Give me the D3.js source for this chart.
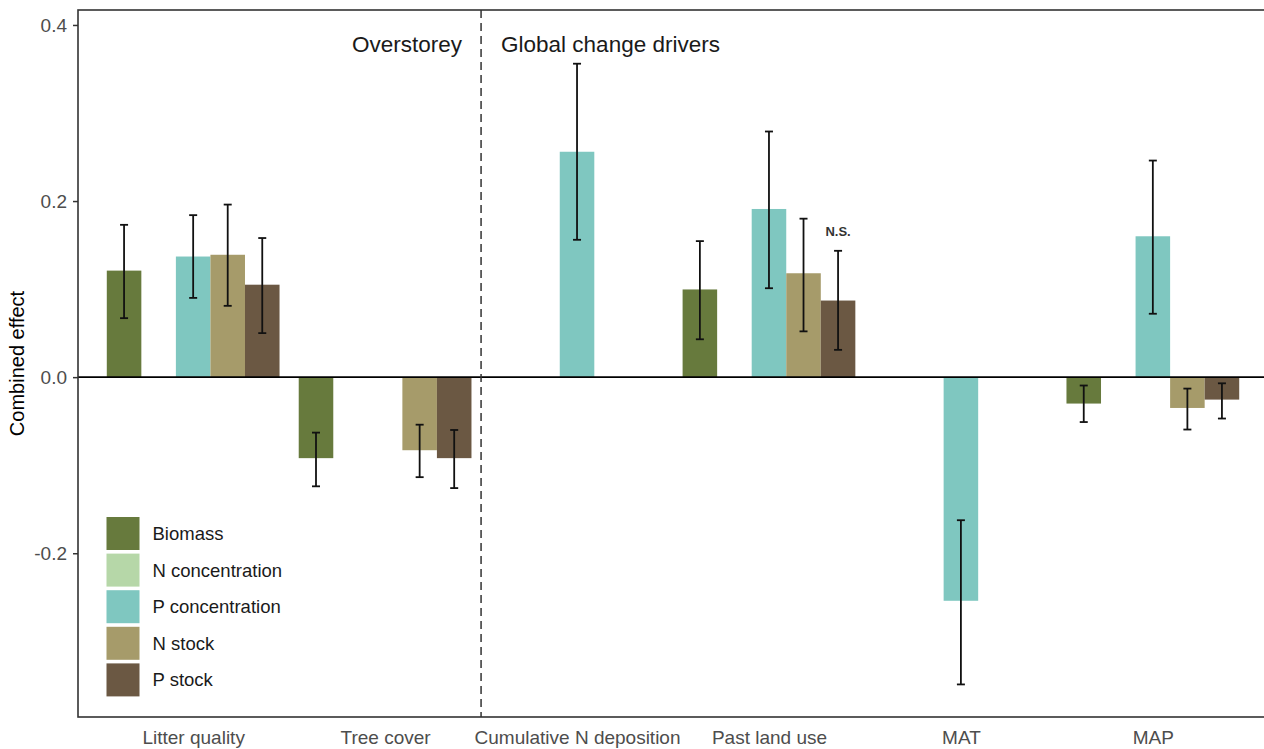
<!DOCTYPE html>
<html>
<head>
<meta charset="utf-8">
<script src="https://cdn.jsdelivr.net/npm/d3@7"></script>
<style>
  html, body { margin: 0; padding: 0; background: #fff; }
  svg { display: block; font-family: Arial, "Liberation Sans", sans-serif; }
</style>
</head>
<body>
<svg id="chart" width="1264" height="749"></svg>
<script>
// Predictor categories along the x axis
const categories = ["Litter quality", "Tree cover", "Cumulative N deposition", "Past land use", "MAT", "MAP"];

// Response variables (legend order)
const series = ["Biomass", "N concentration", "P concentration", "N stock", "P stock"];
const seriesColors = ["#677a3d", "#b6d7a8", "#7fc7c0", "#a69b6a", "#6b5843"];

// Combined effects per category (null = not estimated)
const biomass      = [0.121, -0.092, null, 0.0996, null, -0.030];
const biomassLow   = [0.067, -0.124, null, 0.043, null, -0.051];
const biomassHigh  = [0.173, -0.063, null, 0.1545, null, -0.0095];

const nConc        = [null, null, null, null, null, null];
const nConcLow     = [null, null, null, null, null, null];
const nConcHigh    = [null, null, null, null, null, null];

const pConc        = [0.137, null, 0.256, 0.191, -0.254, 0.160];
const pConcLow     = [0.090, null, 0.156, 0.101, -0.349, 0.072];
const pConcHigh    = [0.184, null, 0.356, 0.279, -0.1625, 0.246];

const nStock       = [0.139, -0.083, null, 0.118, null, -0.035];
const nStockLow    = [0.081, -0.1136, null, 0.052, null, -0.0595];
const nStockHigh   = [0.196, -0.054, null, 0.180, null, -0.013];

const pStock       = [0.105, -0.092, null, 0.087, null, -0.0255];
const pStockLow    = [0.050, -0.126, null, 0.031, null, -0.047];
const pStockHigh   = [0.158, -0.060, null, 0.1435, null, -0.007];

const yTicks = [-0.2, 0.0, 0.2, 0.4];
const yTickLabels = ["-0.2", "0.0", "0.2", "0.4"];

// Section headings either side of the divider
const leftHeading = "Overstorey";
const rightHeading = "Global change drivers";
const nsLabel = { category: "Past land use", series: "P stock", text: "N.S." };

const values = [biomass, nConc, pConc, nStock, pStock];
const lows   = [biomassLow, nConcLow, pConcLow, nStockLow, pStockLow];
const highs  = [biomassHigh, nConcHigh, pConcHigh, nStockHigh, pStockHigh];

// Long-format rows built from the arrays above
const rows = [];
series.forEach((s, si) => {
  categories.forEach((c, ci) => {
    if (values[si][ci] !== null) {
      rows.push({ series: s, category: c, value: values[si][ci], low: lows[si][ci], high: highs[si][ci], color: seriesColors[si] });
    }
  });
});

const svg = d3.select("#chart");
const panel = { left: 78, top: 10, right: 1268, bottom: 717 };

// Discrete x positions with 0.6-unit expansion on both sides
const xPos = d3.scaleLinear()
  .domain([0.4, categories.length + 0.6])
  .range([panel.left, panel.right]);
const catIndex = d3.scaleOrdinal().domain(categories).range(d3.range(1, categories.length + 1));
const dodge = d3.scaleBand().domain(series).range([-0.45, 0.45]);

const y = d3.scaleLinear().domain([-0.386, 0.417]).range([panel.bottom, panel.top]);

const clip = svg.append("clipPath").attr("id", "panel-clip")
  .append("rect")
  .attr("x", panel.left).attr("y", panel.top)
  .attr("width", panel.right - panel.left).attr("height", panel.bottom - panel.top);

const plot = svg.append("g").attr("clip-path", "url(#panel-clip)");

// Bars
plot.selectAll("rect.bar").data(rows).enter().append("rect")
  .attr("class", "bar")
  .attr("x", d => xPos(catIndex(d.category) + dodge(d.series)))
  .attr("width", d => xPos(catIndex(d.category) + dodge(d.series) + dodge.bandwidth()) - xPos(catIndex(d.category) + dodge(d.series)))
  .attr("y", d => y(Math.max(0, d.value)))
  .attr("height", d => Math.abs(y(d.value) - y(0)))
  .attr("fill", d => d.color);

// Zero reference line
plot.append("line")
  .attr("x1", panel.left).attr("x2", panel.right)
  .attr("y1", y(0)).attr("y2", y(0))
  .attr("stroke", "#000").attr("stroke-width", 1.6);

// Error bars
const capHalf = 4;
const eb = plot.selectAll("g.err").data(rows).enter().append("g").attr("class", "err");
const cx = d => xPos(catIndex(d.category) + dodge(d.series) + dodge.bandwidth() / 2);
eb.append("line")
  .attr("x1", cx).attr("x2", cx)
  .attr("y1", d => y(d.low)).attr("y2", d => y(d.high))
  .attr("stroke", "#111").attr("stroke-width", 1.8);
eb.append("line")
  .attr("x1", d => cx(d) - capHalf).attr("x2", d => cx(d) + capHalf)
  .attr("y1", d => y(d.high)).attr("y2", d => y(d.high))
  .attr("stroke", "#111").attr("stroke-width", 1.8);
eb.append("line")
  .attr("x1", d => cx(d) - capHalf).attr("x2", d => cx(d) + capHalf)
  .attr("y1", d => y(d.low)).attr("y2", d => y(d.low))
  .attr("stroke", "#111").attr("stroke-width", 1.8);

// Divider between overstorey and global change drivers
const divX = xPos(2.5);
plot.append("line")
  .attr("x1", divX).attr("x2", divX)
  .attr("y1", panel.top).attr("y2", panel.bottom)
  .attr("stroke", "#333").attr("stroke-width", 1.5)
  .attr("stroke-dasharray", "8,5");

// Headings
svg.append("text").attr("x", divX - 19).attr("y", 51.5)
  .attr("text-anchor", "end").attr("font-size", 22.5).attr("fill", "#1a1a1a")
  .text(leftHeading);
svg.append("text").attr("x", divX + 20).attr("y", 51.5)
  .attr("text-anchor", "start").attr("font-size", 22.5).attr("fill", "#1a1a1a")
  .text(rightHeading);

// N.S. annotation above the non-significant bar
const nsRow = rows.find(r => r.category === nsLabel.category && r.series === nsLabel.series);
svg.append("text")
  .attr("x", cx(nsRow)).attr("y", y(nsRow.high) - 15)
  .attr("text-anchor", "middle").attr("font-size", 13).attr("font-weight", "bold")
  .attr("fill", "#333")
  .text(nsLabel.text);

// Panel border
svg.append("rect")
  .attr("x", panel.left).attr("y", panel.top)
  .attr("width", panel.right - panel.left).attr("height", panel.bottom - panel.top)
  .attr("fill", "none").attr("stroke", "#333").attr("stroke-width", 1.6);

// Y axis
const yAxis = d3.axisLeft(y).tickValues(yTicks).tickSize(5).tickPadding(6)
  .tickFormat((d, i) => yTickLabels[i]);
const gy = svg.append("g").attr("transform", `translate(${panel.left},0)`).call(yAxis);
gy.select(".domain").remove();
gy.selectAll(".tick line").attr("stroke", "#333").attr("stroke-width", 1.5);
gy.selectAll(".tick text").attr("font-size", 19).attr("fill", "#4d4d4d")
  .attr("font-family", "Arial, 'Liberation Sans', sans-serif");

// X axis (category labels only)
const xAxis = d3.axisBottom(xPos).tickValues(d3.range(1, categories.length + 1))
  .tickSize(0).tickPadding(14).tickFormat((d, i) => categories[i]);
const gx = svg.append("g").attr("transform", `translate(0,${panel.bottom})`).call(xAxis);
gx.select(".domain").remove();
gx.selectAll(".tick text").attr("font-size", 19).attr("fill", "#4d4d4d")
  .attr("font-family", "Arial, 'Liberation Sans', sans-serif");

// Y axis title
svg.append("text")
  .attr("transform", `translate(24,${(panel.top + panel.bottom) / 2}) rotate(-90)`)
  .attr("text-anchor", "middle").attr("font-size", 20).attr("fill", "#000")
  .text("Combined effect");

// Legend
const legend = svg.append("g").attr("transform", "translate(106.5,517)");
const keySize = 33, keyStep = 36.6;
const li = legend.selectAll("g").data(series).enter().append("g")
  .attr("transform", (d, i) => `translate(0,${i * keyStep})`);
li.append("rect").attr("width", keySize).attr("height", keySize)
  .attr("fill", (d, i) => seriesColors[i]);
li.append("text").attr("x", 46).attr("y", keySize / 2).attr("dy", "0.35em")
  .attr("font-size", 18.5).attr("fill", "#1a1a1a")
  .text(d => d);
</script>
</body>
</html>
